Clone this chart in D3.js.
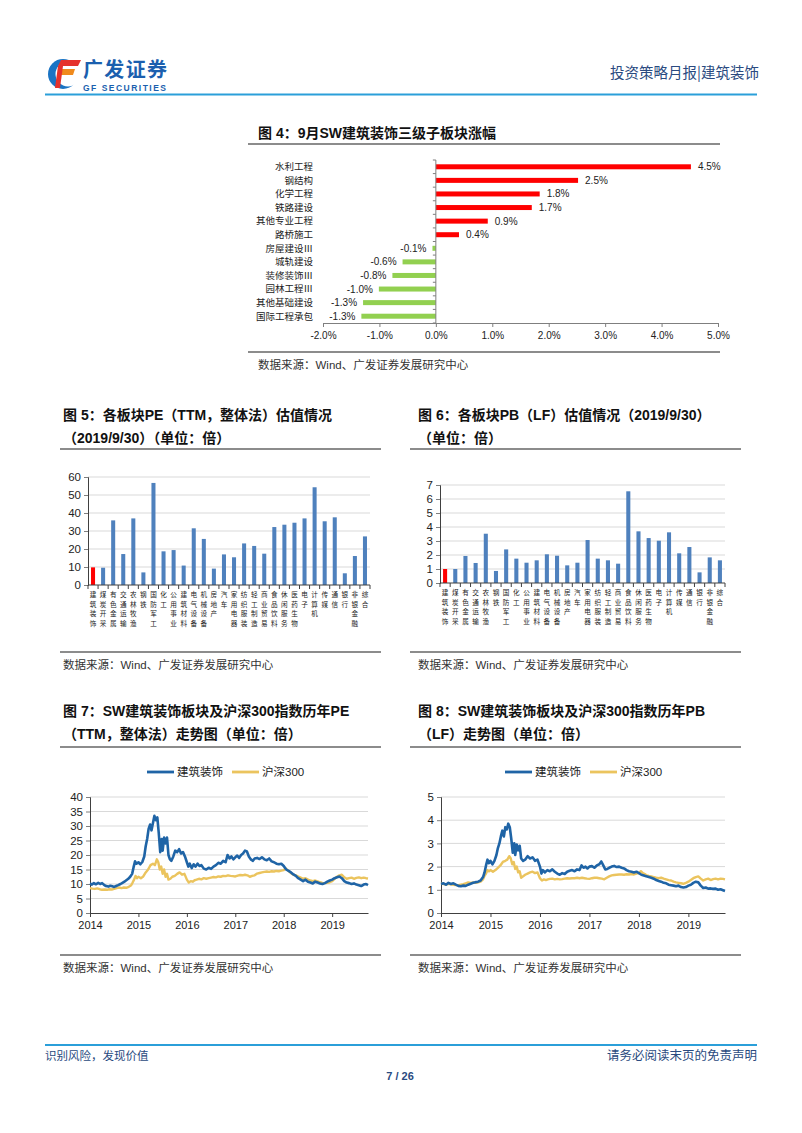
<!DOCTYPE html>
<html><head><meta charset="utf-8">
<script src="https://cdn.jsdelivr.net/npm/d3@7"></script>
<style>
body{margin:0;background:#fff;}
svg{display:block;font-family:"Liberation Sans",Arial,"Noto Sans CJK SC",sans-serif;}
</style></head><body><svg id="page" width="802" height="1133"></svg>
<script>
// ---------- DATA ----------
const subCats = ["水利工程","钢结构","化学工程","铁路建设","其他专业工程","路桥施工","房屋建设Ⅲ","城轨建设","装修装饰Ⅲ","园林工程Ⅲ","其他基础建设","国际工程承包"];
const subChange = [4.52,2.52,1.84,1.70,0.92,0.41,-0.06,-0.59,-0.77,-1.01,-1.29,-1.32];
const pctTicks = [-2,-1,0,1,2,3,4,5];

const industries = ["建筑装饰","煤炭开采","有色金属","交通运输","农林牧渔","钢铁","国防军工","化工","公用事业","建筑材料","电气设备","机械设备","房地产","汽车","家用电器","纺织服装","轻工制造","商业贸易","食品饮料","休闲服务","医药生物","电子","计算机","传媒","通信","银行","非银金融","综合"];
const peValues = [9.8,9.6,35.9,17.2,37.0,7.0,56.7,18.7,19.4,10.8,31.5,25.6,9.1,17.0,15.4,23.1,21.7,17.4,32.2,33.5,34.6,37.0,54.3,35.4,37.6,6.5,16.1,27.0];
const pbValues = [1.0,1.0,1.93,1.43,3.52,0.86,2.4,1.74,1.45,1.62,2.05,1.95,1.26,1.45,3.07,1.74,1.62,1.38,6.55,3.69,3.21,3.02,3.62,2.12,2.57,0.76,1.83,1.62];
const peTicks = [0,10,20,30,40,50,60];
const pbTicks = [0,1,2,3,4,5,6,7];

const seriesNames = ["建筑装饰","沪深300"];
const yearTicks = [2014,2015,2016,2017,2018,2019];
const peLineTicks = [0,5,10,15,20,25,30,35,40];
const pbLineTicks = [0,1,2,3,4,5];

const peBuild = [[2014.00,10.2],[2014.04,9.8],[2014.08,10.3],[2014.12,9.9],[2014.17,10.4],[2014.21,10.0],[2014.25,10.3],[2014.29,9.7],[2014.33,9.3],[2014.38,9.1],[2014.42,9.4],[2014.46,9.2],[2014.50,9.0],[2014.54,9.3],[2014.58,9.6],[2014.63,10.0],[2014.67,10.4],[2014.71,10.8],[2014.75,11.3],[2014.79,11.8],[2014.83,12.5],[2014.87,13.5],[2014.90,15.8],[2014.93,17.8],[2014.96,17.0],[2015.00,17.5],[2015.04,16.8],[2015.08,17.6],[2015.12,19.5],[2015.15,23.0],[2015.18,25.5],[2015.21,29.0],[2015.24,30.5],[2015.27,28.5],[2015.30,31.0],[2015.33,33.5],[2015.36,32.0],[2015.39,33.0],[2015.42,27.5],[2015.45,21.0],[2015.48,25.5],[2015.50,21.5],[2015.53,26.0],[2015.56,24.0],[2015.59,26.0],[2015.62,20.0],[2015.65,18.5],[2015.68,18.0],[2015.72,19.5],[2015.76,21.5],[2015.80,21.0],[2015.84,22.0],[2015.88,20.5],[2015.92,21.0],[2015.96,19.5],[2016.00,17.5],[2016.03,16.0],[2016.06,17.0],[2016.10,15.5],[2016.14,16.8],[2016.18,16.0],[2016.22,17.0],[2016.26,16.2],[2016.30,16.5],[2016.35,15.3],[2016.40,15.0],[2016.45,15.6],[2016.50,15.2],[2016.55,16.0],[2016.60,16.5],[2016.65,17.3],[2016.70,17.0],[2016.75,18.0],[2016.80,17.5],[2016.84,20.0],[2016.88,18.8],[2016.92,19.5],[2016.96,18.5],[2017.00,19.2],[2017.04,19.8],[2017.08,19.0],[2017.12,20.0],[2017.16,20.5],[2017.20,21.5],[2017.24,21.2],[2017.28,19.5],[2017.32,18.5],[2017.36,18.0],[2017.40,18.8],[2017.45,19.0],[2017.50,18.6],[2017.55,19.2],[2017.60,18.5],[2017.65,18.2],[2017.70,18.8],[2017.75,17.8],[2017.80,17.5],[2017.85,17.0],[2017.90,16.8],[2017.95,17.0],[2018.00,16.2],[2018.05,15.0],[2018.10,14.5],[2018.15,14.0],[2018.20,13.3],[2018.25,12.8],[2018.30,12.0],[2018.35,11.5],[2018.40,11.0],[2018.45,11.5],[2018.50,10.8],[2018.55,10.5],[2018.60,10.2],[2018.65,10.8],[2018.70,10.5],[2018.75,10.2],[2018.80,10.0],[2018.85,10.3],[2018.90,10.8],[2018.95,11.2],[2019.00,11.5],[2019.05,12.0],[2019.10,12.3],[2019.15,12.6],[2019.20,12.0],[2019.25,11.0],[2019.30,10.5],[2019.35,10.3],[2019.40,10.0],[2019.45,10.2],[2019.50,9.8],[2019.55,9.6],[2019.60,9.3],[2019.65,9.8],[2019.70,10.0],[2019.74,9.6]];
const peHS300 = [[2014.00,8.6],[2014.05,8.4],[2014.10,8.3],[2014.15,8.5],[2014.20,8.2],[2014.25,8.0],[2014.30,8.1],[2014.35,8.0],[2014.40,8.2],[2014.45,8.1],[2014.50,8.3],[2014.55,8.6],[2014.60,8.8],[2014.65,8.6],[2014.70,8.8],[2014.75,8.7],[2014.80,9.0],[2014.85,9.6],[2014.88,10.5],[2014.91,11.5],[2014.94,12.8],[2014.97,12.0],[2015.00,12.5],[2015.05,12.0],[2015.10,12.6],[2015.15,14.0],[2015.20,15.0],[2015.25,16.5],[2015.30,17.0],[2015.34,16.5],[2015.38,18.5],[2015.41,17.5],[2015.44,15.0],[2015.47,16.0],[2015.50,13.5],[2015.53,15.0],[2015.56,12.5],[2015.59,13.5],[2015.62,11.5],[2015.66,11.8],[2015.70,12.5],[2015.75,12.8],[2015.80,13.5],[2015.85,14.0],[2015.90,13.2],[2015.95,13.5],[2016.00,11.5],[2016.04,10.5],[2016.08,11.0],[2016.12,10.8],[2016.16,11.3],[2016.20,11.5],[2016.25,11.8],[2016.30,11.6],[2016.35,12.0],[2016.40,11.8],[2016.45,12.0],[2016.50,12.2],[2016.55,12.4],[2016.60,12.3],[2016.65,12.6],[2016.70,12.5],[2016.75,12.8],[2016.80,12.7],[2016.85,13.0],[2016.90,12.8],[2016.95,12.7],[2017.00,12.6],[2017.05,12.9],[2017.10,13.1],[2017.15,13.0],[2017.20,13.2],[2017.25,13.0],[2017.30,12.5],[2017.35,12.8],[2017.40,13.0],[2017.45,13.6],[2017.50,13.8],[2017.55,14.0],[2017.60,14.2],[2017.65,14.3],[2017.70,14.2],[2017.75,14.4],[2017.80,14.3],[2017.85,14.5],[2017.90,14.4],[2017.95,14.6],[2018.00,14.8],[2018.04,15.4],[2018.08,14.8],[2018.12,14.2],[2018.16,13.6],[2018.20,13.2],[2018.25,13.0],[2018.30,12.6],[2018.35,12.2],[2018.40,11.8],[2018.45,12.0],[2018.50,11.5],[2018.55,11.2],[2018.60,11.0],[2018.65,11.2],[2018.70,10.9],[2018.75,10.6],[2018.80,10.4],[2018.85,10.3],[2018.90,10.4],[2018.95,10.6],[2019.00,11.0],[2019.05,11.8],[2019.10,12.5],[2019.15,13.0],[2019.20,13.2],[2019.25,12.3],[2019.30,11.8],[2019.35,12.0],[2019.40,12.2],[2019.45,11.8],[2019.50,12.1],[2019.55,12.3],[2019.60,12.0],[2019.65,12.2],[2019.70,12.0],[2019.74,11.9]];
const pbBuild = [[2014.00,1.25],[2014.05,1.28],[2014.10,1.22],[2014.15,1.30],[2014.20,1.25],[2014.25,1.28],[2014.30,1.22],[2014.35,1.17],[2014.40,1.15],[2014.45,1.18],[2014.50,1.17],[2014.55,1.22],[2014.60,1.26],[2014.65,1.30],[2014.70,1.33],[2014.75,1.35],[2014.80,1.40],[2014.85,1.55],[2014.88,1.75],[2014.91,2.05],[2014.94,2.30],[2014.97,2.15],[2015.00,2.25],[2015.04,2.10],[2015.08,2.25],[2015.12,2.50],[2015.15,2.80],[2015.18,3.00],[2015.21,3.30],[2015.24,3.55],[2015.27,3.30],[2015.30,3.70],[2015.33,3.60],[2015.36,3.85],[2015.39,3.70],[2015.42,3.20],[2015.45,2.60],[2015.48,3.00],[2015.50,2.50],[2015.53,2.95],[2015.56,2.70],[2015.59,2.90],[2015.62,2.35],[2015.66,2.25],[2015.70,2.30],[2015.75,2.45],[2015.80,2.35],[2015.85,2.40],[2015.90,2.25],[2015.95,2.30],[2016.00,2.00],[2016.03,1.70],[2016.06,1.85],[2016.10,1.75],[2016.15,1.85],[2016.20,1.80],[2016.25,1.88],[2016.30,1.78],[2016.35,1.70],[2016.40,1.65],[2016.45,1.72],[2016.50,1.68],[2016.55,1.78],[2016.60,1.82],[2016.65,1.85],[2016.70,1.80],[2016.75,1.88],[2016.80,1.85],[2016.84,2.05],[2016.88,1.95],[2016.92,2.00],[2016.96,1.92],[2017.00,2.00],[2017.05,2.02],[2017.10,1.95],[2017.15,2.05],[2017.20,2.10],[2017.24,2.22],[2017.28,2.05],[2017.32,1.88],[2017.36,1.90],[2017.40,1.95],[2017.45,2.00],[2017.50,2.03],[2017.55,1.98],[2017.60,2.00],[2017.65,1.95],[2017.70,1.92],[2017.75,1.85],[2017.80,1.80],[2017.85,1.78],[2017.90,1.75],[2017.95,1.78],[2018.00,1.72],[2018.05,1.65],[2018.10,1.62],[2018.15,1.58],[2018.20,1.55],[2018.25,1.52],[2018.30,1.48],[2018.35,1.42],[2018.40,1.38],[2018.45,1.35],[2018.50,1.30],[2018.55,1.28],[2018.60,1.22],[2018.65,1.20],[2018.70,1.18],[2018.75,1.15],[2018.80,1.18],[2018.85,1.12],[2018.90,1.10],[2018.95,1.12],[2019.00,1.18],[2019.05,1.22],[2019.10,1.30],[2019.15,1.35],[2019.20,1.32],[2019.25,1.18],[2019.30,1.08],[2019.35,1.10],[2019.40,1.05],[2019.45,1.06],[2019.50,1.04],[2019.55,1.05],[2019.60,1.00],[2019.65,1.02],[2019.70,0.98],[2019.74,0.95]];
const pbHS300 = [[2014.00,1.28],[2014.05,1.25],[2014.10,1.22],[2014.15,1.26],[2014.20,1.24],[2014.25,1.22],[2014.30,1.20],[2014.35,1.20],[2014.40,1.22],[2014.45,1.24],[2014.50,1.28],[2014.55,1.32],[2014.60,1.30],[2014.65,1.32],[2014.70,1.30],[2014.75,1.32],[2014.80,1.35],[2014.85,1.45],[2014.88,1.60],[2014.91,1.70],[2014.94,1.85],[2014.97,1.80],[2015.00,1.85],[2015.05,1.78],[2015.10,1.85],[2015.15,1.95],[2015.20,2.05],[2015.25,2.20],[2015.30,2.25],[2015.34,2.30],[2015.38,2.45],[2015.41,2.35],[2015.44,2.10],[2015.47,2.20],[2015.50,1.90],[2015.53,2.00],[2015.56,1.75],[2015.59,1.80],[2015.62,1.52],[2015.66,1.58],[2015.70,1.65],[2015.75,1.70],[2015.80,1.75],[2015.85,1.78],[2015.90,1.72],[2015.95,1.75],[2016.00,1.50],[2016.04,1.40],[2016.08,1.45],[2016.12,1.42],[2016.16,1.45],[2016.20,1.47],[2016.25,1.48],[2016.30,1.45],[2016.35,1.47],[2016.40,1.45],[2016.45,1.46],[2016.50,1.48],[2016.55,1.50],[2016.60,1.49],[2016.65,1.50],[2016.70,1.50],[2016.75,1.52],[2016.80,1.50],[2016.85,1.52],[2016.90,1.50],[2016.95,1.48],[2017.00,1.47],[2017.05,1.50],[2017.10,1.52],[2017.15,1.52],[2017.20,1.50],[2017.25,1.48],[2017.30,1.45],[2017.35,1.52],[2017.40,1.58],[2017.45,1.62],[2017.50,1.64],[2017.55,1.65],[2017.60,1.66],[2017.65,1.66],[2017.70,1.65],[2017.75,1.67],[2017.80,1.66],[2017.85,1.68],[2017.90,1.66],[2017.95,1.70],[2018.00,1.72],[2018.04,1.80],[2018.08,1.72],[2018.12,1.68],[2018.16,1.62],[2018.20,1.60],[2018.25,1.58],[2018.30,1.55],[2018.35,1.52],[2018.40,1.50],[2018.45,1.52],[2018.50,1.48],[2018.55,1.45],[2018.60,1.42],[2018.65,1.40],[2018.70,1.35],[2018.75,1.32],[2018.80,1.30],[2018.85,1.28],[2018.90,1.26],[2018.95,1.30],[2019.00,1.35],[2019.05,1.42],[2019.10,1.50],[2019.15,1.55],[2019.20,1.58],[2019.25,1.48],[2019.30,1.40],[2019.35,1.45],[2019.40,1.48],[2019.45,1.42],[2019.50,1.46],[2019.55,1.48],[2019.60,1.45],[2019.65,1.48],[2019.70,1.47],[2019.74,1.45]];

// ---------- STYLE ----------
const BLUE_BAR = "#4F81BD", RED = "#FF0000", GREEN = "#92D050";
const LINE_BLUE = "#1F64A6", LINE_YEL = "#EBC45E";
const AXIS = "#7f7f7f", GRID = "#d9d9d9", TXT = "#222";
const CJK = "'Noto Sans CJK SC',sans-serif";
const MIX = "'Liberation Sans',Arial,'Noto Sans CJK SC',sans-serif";

const svg = d3.select("#page");
svg.append("rect").attr("width",802).attr("height",1133).attr("fill","#fff");

// ---------- HEADER ----------
const hdr = svg.append("g");
hdr.append("circle").attr("cx",63).attr("cy",74).attr("r",15).attr("fill","#1a74c4");
hdr.append("circle").attr("cx",68).attr("cy",74).attr("r",12.5).attr("fill","#fff");
hdr.append("polygon").attr("points","61,60 81,60 78,66 58,66").attr("fill","#e5322b");
hdr.append("polygon").attr("points","59,69 75,69 73,75 57,75").attr("fill","#f08a1c");
hdr.append("polygon").attr("points","58,66 63,66 60,88 55,88").attr("fill","#e5322b");
hdr.append("text").attr("x",83).attr("y",77).attr("font-family",CJK).attr("font-weight","bold")
  .attr("font-size",20).attr("textLength",84).attr("fill","#1b5fae").text("广发证券");
hdr.append("text").attr("x",83).attr("y",91).attr("font-weight","bold").attr("font-size",8.5)
  .attr("textLength",83).attr("fill","#1b5fae").text("GF SECURITIES");
hdr.append("text").attr("x",759).attr("y",78).attr("text-anchor","end").attr("font-family",CJK)
  .attr("font-size",14.5).attr("fill","#2a4a80").text("投资策略月报|建筑装饰");
hdr.append("line").attr("x1",45).attr("x2",757).attr("y1",94.5).attr("y2",94.5)
  .attr("stroke","#2b9fd9").attr("stroke-width",2);

// ---------- FOOTER ----------
svg.append("line").attr("x1",45).attr("x2",757).attr("y1",1045).attr("y2",1045)
  .attr("stroke","#2b9fd9").attr("stroke-width",2);
svg.append("text").attr("x",45).attr("y",1060).attr("font-family",CJK).attr("font-size",11.5)
  .attr("fill","#2a4a80").text("识别风险，发现价值");
svg.append("text").attr("x",757).attr("y",1060).attr("text-anchor","end").attr("font-family",CJK)
  .attr("font-size",12.5).attr("fill","#2a4a80").text("请务必阅读末页的免责声明");
svg.append("text").attr("x",400).attr("y",1080).attr("text-anchor","middle").attr("font-weight","bold")
  .attr("font-size",11).attr("fill","#2a4a80").text("7 / 26");

// ---------- helpers ----------
function title(lines, x, y0, lineX1, lineX2, lineY){
  lines.forEach((t,i)=>{
    svg.append("text").attr("x",x).attr("y",y0+i*23).attr("font-family",MIX)
      .attr("font-weight","bold").attr("font-size",14).attr("fill","#111").text(t);
  });
  svg.append("line").attr("x1",lineX1).attr("x2",lineX2).attr("y1",lineY).attr("y2",lineY)
    .attr("stroke","#666").attr("stroke-width",1.5);
}
function source(x, lineX1, lineX2, lineY){
  svg.append("line").attr("x1",lineX1).attr("x2",lineX2).attr("y1",lineY).attr("y2",lineY)
    .attr("stroke","#666").attr("stroke-width",1.5);
  svg.append("text").attr("x",x).attr("y",lineY+17).attr("font-family",MIX)
    .attr("font-size",11.5).attr("fill","#333").text("数据来源：Wind、广发证券发展研究中心");
}
function styleAxis(g, fs){
  g.selectAll("path.domain").attr("stroke",AXIS);
  g.selectAll(".tick line").attr("stroke",AXIS);
  g.selectAll("text").attr("font-size",fs).attr("fill",TXT).attr("font-family","'Liberation Sans',Arial,sans-serif");
}

// ---------- FIG 4 ----------
title(["图 4：9月SW建筑装饰三级子板块涨幅"], 258, 138, 248, 720, 144);
source(258, 248, 720, 352);
{
  const x = d3.scaleLinear().domain([-2,5]).range([323,718]);
  const y = d3.scaleBand().domain(subCats).range([160,323]);
  const g = svg.append("g");
  g.selectAll("rect").data(subCats).join("rect")
    .attr("x",(c,i)=>x(Math.min(0,subChange[i])))
    .attr("width",(c,i)=>Math.abs(x(subChange[i])-x(0)))
    .attr("y",c=>y(c)+y.bandwidth()/2-2.5).attr("height",5)
    .attr("fill",(c,i)=>subChange[i]>=0?RED:GREEN);
  const ax = g.append("g").attr("transform","translate(0,323)")
    .call(d3.axisBottom(x).tickValues(pctTicks).tickFormat(d=>d.toFixed(1)+"%").tickSize(4).tickPadding(5));
  styleAxis(ax,10);
  g.append("line").attr("x1",x(0)).attr("x2",x(0)).attr("y1",160).attr("y2",323).attr("stroke",AXIS);
  const bounds = subCats.map(c=>y(c)).concat([323]);
  g.selectAll("line.bt").data(bounds).join("line").attr("class","bt")
    .attr("x1",x(0)-3).attr("x2",x(0)).attr("y1",d=>d).attr("y2",d=>d).attr("stroke",AXIS);
  g.selectAll("text.cat").data(subCats).join("text").attr("class","cat")
    .attr("x",313).attr("y",c=>y(c)+y.bandwidth()/2).attr("dy","0.35em").attr("text-anchor","end")
    .attr("font-family",CJK).attr("font-size",9.5).attr("fill",TXT).text(c=>c);
  g.selectAll("text.val").data(subCats).join("text").attr("class","val")
    .attr("x",(c,i)=>subChange[i]>=0?x(subChange[i])+7:x(subChange[i])-6)
    .attr("text-anchor",(c,i)=>subChange[i]>=0?"start":"end")
    .attr("y",c=>y(c)+y.bandwidth()/2).attr("dy","0.35em")
    .attr("font-size",10).attr("fill",TXT).text((c,i)=>subChange[i].toFixed(1)+"%");
}

// ---------- FIG 5 & 6 ----------
function barChart(values, ticks, maxV, x0, x1, yTop, yBot){
  const x = d3.scaleBand().domain(industries).range([x0,x1]).paddingInner(0.6).paddingOuter(0.3);
  const y = d3.scaleLinear().domain([0,maxV]).range([yBot,yTop]);
  const g = svg.append("g");
  g.selectAll("line.grid").data(ticks.slice(1)).join("line").attr("class","grid")
    .attr("x1",x0).attr("x2",x1).attr("y1",d=>y(d)).attr("y2",d=>y(d)).attr("stroke",GRID);
  g.selectAll("rect").data(industries).join("rect")
    .attr("x",c=>x(c)).attr("width",x.bandwidth())
    .attr("y",(c,i)=>y(values[i])).attr("height",(c,i)=>yBot-y(values[i]))
    .attr("fill",(c,i)=>i===0?RED:BLUE_BAR);
  const ay = g.append("g").attr("transform",`translate(${x0},0)`)
    .call(d3.axisLeft(y).tickValues(ticks).tickFormat(d3.format("d")).tickSize(4).tickPadding(3));
  styleAxis(ay,11.5);
  ay.select("path.domain").attr("stroke","#404040");
  g.append("line").attr("x1",x0).attr("x2",x1).attr("y1",yBot).attr("y2",yBot).attr("stroke","#404040");
  const step = x.step();
  const bds = industries.map(c=>x(c)-step*0.3).concat([x1]);
  g.selectAll("line.bt").data(bds).join("line").attr("class","bt")
    .attr("x1",d=>d).attr("x2",d=>d).attr("y1",yBot).attr("y2",yBot+4).attr("stroke","#404040");
  // stacked vertical labels: one upright character per line
  const fs = 6.6, lh = 9.6;
  industries.forEach(c=>{
    const cx = x(c)+x.bandwidth()/2;
    g.selectAll(null).data(Array.from(c)).join("text")
      .attr("x",cx).attr("y",(ch,k)=>yBot+5+fs*1.05+k*lh).attr("text-anchor","middle")
      .attr("font-family",CJK).attr("font-size",fs).attr("fill",TXT).text(ch=>ch);
  });
}
title(["图 5：各板块PE（TTM，整体法）估值情况","（2019/9/30）（单位：倍）"], 63, 420, 60, 381, 449);
source(63, 60, 381, 652);
barChart(peValues, peTicks, 60, 88, 370, 477, 585);

title(["图 6：各板块PB（LF）估值情况（2019/9/30）","（单位：倍）"], 418, 420, 410, 741, 449);
source(418, 410, 741, 652);
barChart(pbValues, pbTicks, 7, 440, 725, 485, 583);

// ---------- FIG 7 & 8 ----------
function lineChart(s1, s2, ticks, maxV, x0, x1, yTop, yBot, legX){
  const x = d3.scaleLinear().domain([2014,2019.74]).range([x0,x1]);
  const y = d3.scaleLinear().domain([0,maxV]).range([yBot,yTop]);
  const g = svg.append("g");
  g.selectAll("line.grid").data(ticks.slice(1)).join("line").attr("class","grid")
    .attr("x1",x0).attr("x2",x1).attr("y1",d=>y(d)).attr("y2",d=>y(d)).attr("stroke",GRID);
  const ay = g.append("g").attr("transform",`translate(${x0},0)`)
    .call(d3.axisLeft(y).tickValues(ticks).tickFormat(d3.format("d")).tickSize(4).tickPadding(3));
  styleAxis(ay,11.5);
  ay.select("path.domain").attr("stroke","#404040");
  const ax = g.append("g").attr("transform",`translate(0,${yBot})`)
    .call(d3.axisBottom(x).tickValues(yearTicks).tickFormat(d3.format("d")).tickSize(4).tickSizeOuter(0).tickPadding(4));
  styleAxis(ax,11);
  ax.select("path.domain").attr("stroke","#404040");
  ax.selectAll(".tick line").attr("stroke","#404040");
  const line = d3.line().x(d=>x(d[0])).y(d=>y(d[1]));
  g.append("path").datum(s2).attr("d",line).attr("fill","none").attr("stroke",LINE_YEL).attr("stroke-width",2.4).attr("stroke-linejoin","round");
  g.append("path").datum(s1).attr("d",line).attr("fill","none").attr("stroke",LINE_BLUE).attr("stroke-width",2.6).attr("stroke-linejoin","round");
  const lg = svg.append("g");
  const items = [{n:seriesNames[0],c:LINE_BLUE,x:legX},{n:seriesNames[1],c:LINE_YEL,x:legX+85}];
  items.forEach(it=>{
    lg.append("line").attr("x1",it.x).attr("x2",it.x+27).attr("y1",772).attr("y2",772)
      .attr("stroke",it.c).attr("stroke-width",2.8);
    lg.append("text").attr("x",it.x+30).attr("y",772).attr("dy","0.35em").attr("font-family",MIX)
      .attr("font-size",11.5).attr("fill",TXT).text(it.n);
  });
}
title(["图 7：SW建筑装饰板块及沪深300指数历年PE","（TTM，整体法）走势图（单位：倍）"], 63, 716, 60, 381, 747);
source(63, 60, 381, 955);
lineChart(peBuild, peHS300, peLineTicks, 40, 90, 368, 797, 913, 147);

title(["图 8：SW建筑装饰板块及沪深300指数历年PB","（LF）走势图（单位：倍）"], 418, 716, 410, 741, 747);
source(418, 410, 741, 955);
lineChart(pbBuild, pbHS300, pbLineTicks, 5, 441, 725, 797, 913, 505);
</script></body></html>
